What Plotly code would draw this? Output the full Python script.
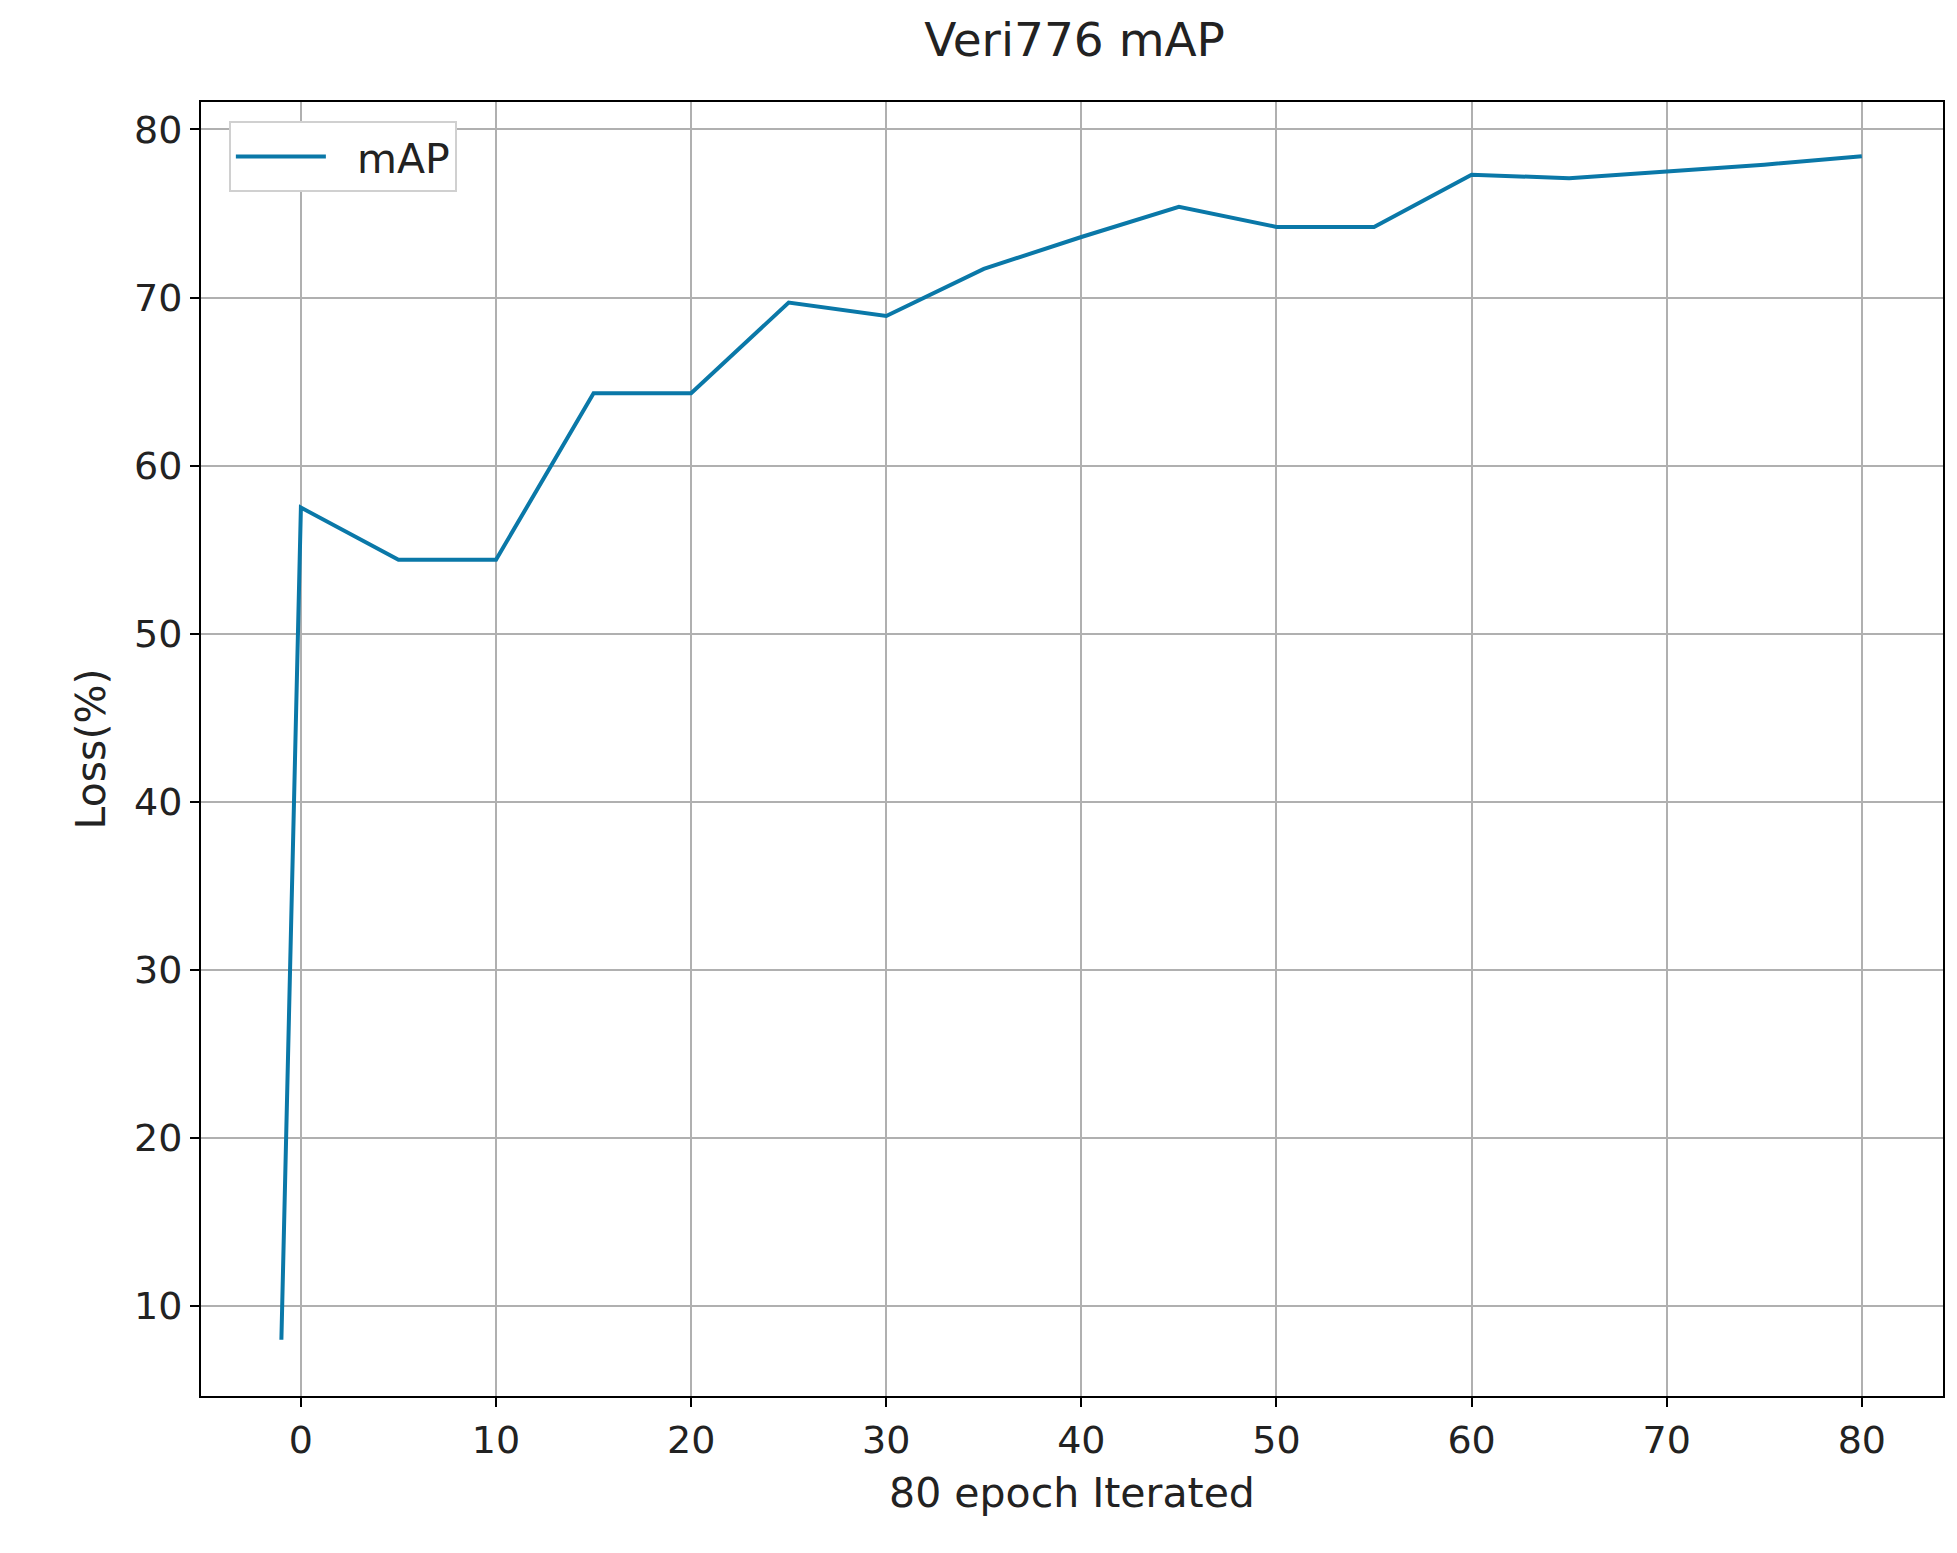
import plotly.graph_objects as go

epochs = [-1, 0, 5, 10, 15, 20, 25, 30, 35, 40, 45, 50, 55, 60, 65, 70, 75, 80]
map_vals = [8.0, 57.5, 54.4, 54.4, 64.3, 64.3, 69.7, 68.9, 71.7, 73.6, 75.4, 74.2, 74.2, 77.3, 77.1, 77.5, 77.9, 78.4]
x_ticks = [0, 10, 20, 30, 40, 50, 60, 70, 80]
y_ticks = [10, 20, 30, 40, 50, 60, 70, 80]

fig = go.Figure(go.Scatter(x=epochs, y=map_vals, mode="lines", name="  mAP",
                           line=dict(color="#0a78a8", width=4)))
ax = dict(showgrid=True, gridcolor="#b0b0b0", gridwidth=1.5, zeroline=False,
          showline=True, linecolor="black", linewidth=2, mirror=True,
          ticks="outside", ticklen=9, tickwidth=1.5, tickcolor="black",
          tickfont=dict(size=38, color="#222"))
fig.update_xaxes(**ax, range=[-5.12, 84.16], tickvals=x_ticks,
                 title=dict(text="80 epoch Iterated", font=dict(size=41, color="#222"), standoff=18))
fig.update_yaxes(**ax, range=[4.65, 81.63], tickvals=y_ticks,
                 title=dict(text="Loss(%)", font=dict(size=41, color="#222"), standoff=16))
fig.update_layout(
    width=1957, height=1553, paper_bgcolor="white", plot_bgcolor="white",
    font=dict(family="DejaVu Sans"),
    margin=dict(l=193, r=22, t=94, b=165),
    title=dict(text="Veri776 mAP", x=0.545, xanchor="center", y=0.99, yanchor="top",
               font=dict(size=47, color="#222")),
    showlegend=True,
    legend=dict(x=0.016, y=0.985, xanchor="left", yanchor="top", itemwidth=90,
                bgcolor="white", bordercolor="#d0d0d0", borderwidth=2,
                font=dict(size=41, color="#222")),
)
fig.write_html("out.html")
